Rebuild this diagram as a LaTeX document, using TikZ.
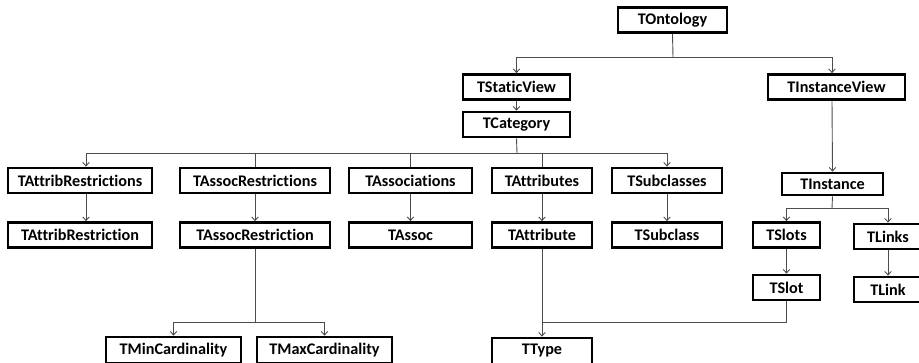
\documentclass[tikz,border=0pt]{standalone}
\usepackage{fontspec}
\setmainfont{Carlito}[Ligatures={NoCommon}]
\usetikzlibrary{arrows.meta}
\begin{document}
\begin{tikzpicture}[x=1pt,y=-1pt,
 box/.style={draw, line width=2.8pt, font=\bfseries\fontsize{16.2}{18}\selectfont, inner sep=0pt, minimum height=25pt},
 conn/.style={draw=black!70, line width=0.9pt},
 arr/.style={conn, -{Straight Barb[length=3.5pt,width=6.5pt]}}]
\useasboundingbox (0,0) rectangle (919,362);
% nodes
\node[box,minimum width=109pt] (onto) at (672.5,20) {TOntology};
\node[box,minimum width=107pt] (static) at (516.5,87) {TStaticView};
\node[box,minimum width=137pt] (instview) at (836.5,87) {TInstanceView};
\node[box,minimum width=107pt] (cat) at (516.5,124.5) {TCategory};
\node[box,minimum width=144pt] (ar1) at (80,180.5) {TAttribRestrictions};
\node[box,minimum width=150pt] (asr1) at (255,180.5) {TAssocRestrictions};
\node[box,minimum width=123pt] (as1) at (410.5,180.5) {TAssociations};
\node[box,minimum width=100pt] (at1) at (542,180.5) {TAttributes};
\node[box,minimum width=110pt] (sub1) at (667,180.5) {TSubclasses};
\node[box,minimum width=101pt,minimum height=22pt] (inst) at (832.5,184) {TInstance};
\node[box,minimum width=144pt] (ar2) at (80,235) {TAttribRestriction};
\node[box,minimum width=150pt] (asr2) at (255,235) {TAssocRestriction};
\node[box,minimum width=123pt] (as2) at (410.5,235) {TAssoc};
\node[box,minimum width=100pt] (at2) at (542,235) {TAttribute};
\node[box,minimum width=110pt] (sub2) at (667,235) {TSubclass};
\node[box,minimum width=67pt] (slots) at (786.5,235) {TSlots};
\node[box,minimum width=68pt] (links) at (888,236.5) {TLinks};
\node[box,minimum width=67pt] (slot) at (786.5,287.5) {TSlot};
\node[box,minimum width=68pt] (link) at (888,289.5) {TLink};
\node[box,minimum width=135pt,minimum height=26pt] (tmin) at (173.5,350) {TMinCardinality};
\node[box,minimum width=135pt,minimum height=26pt] (tmax) at (324.5,350) {TMaxCardinality};
\node[box,minimum width=100pt,minimum height=26pt] (ttype) at (542,351) {TType};
% junctions
\coordinate (j1) at (673,57);
\coordinate (j2) at (517,153);
\coordinate (j3) at (832,208);
\coordinate (j4) at (255,322);
% connectors
\draw[conn] (onto.south) -- (j1);
\draw[arr] (j1) -| (static.north);
\draw[arr] (j1) -| ([xshift=-4.5pt]instview.north);
\draw[arr] (static.south) -- (cat.north);
\draw[conn] (cat.south) -- (j2);
\draw[arr] (j2) -| ([xshift=6pt]ar1.north);
\draw[arr] (j2) -| (sub1.north);
\draw[conn] (asr1.north) -- (asr1.north |- j2);
\draw[conn] (as1.north) -- (as1.north |- j2);
\draw[conn] (at1.north) -- (at1.north |- j2);
\draw[arr] ([xshift=6pt]ar1.south) -- ([xshift=6pt]ar2.north);
\draw[arr] (asr1.south) -- (asr2.north);
\draw[arr] (as1.south) -- (as2.north);
\draw[arr] (at1.south) -- (at2.north);
\draw[arr] (sub1.south) -- (sub2.north);
\draw[arr] ([xshift=-4.5pt]instview.south) -- (inst.north);
\draw[conn] (inst.south) -- (j3);
\draw[arr] (j3) -| (slots.north);
\draw[arr] (j3) -| (links.north);
\draw[arr] (slots.south) -- (slot.north);
\draw[arr] (links.south) -- (link.north);
\draw[conn] (asr2.south) -- (j4);
\draw[arr] (j4) -| (tmin.north);
\draw[arr] (j4) -| (tmax.north);
\draw[arr] (at2.south) -- (ttype.north);
\draw[conn] (slot.south) |- (ttype.north |- j4);
\end{tikzpicture}
\end{document}
